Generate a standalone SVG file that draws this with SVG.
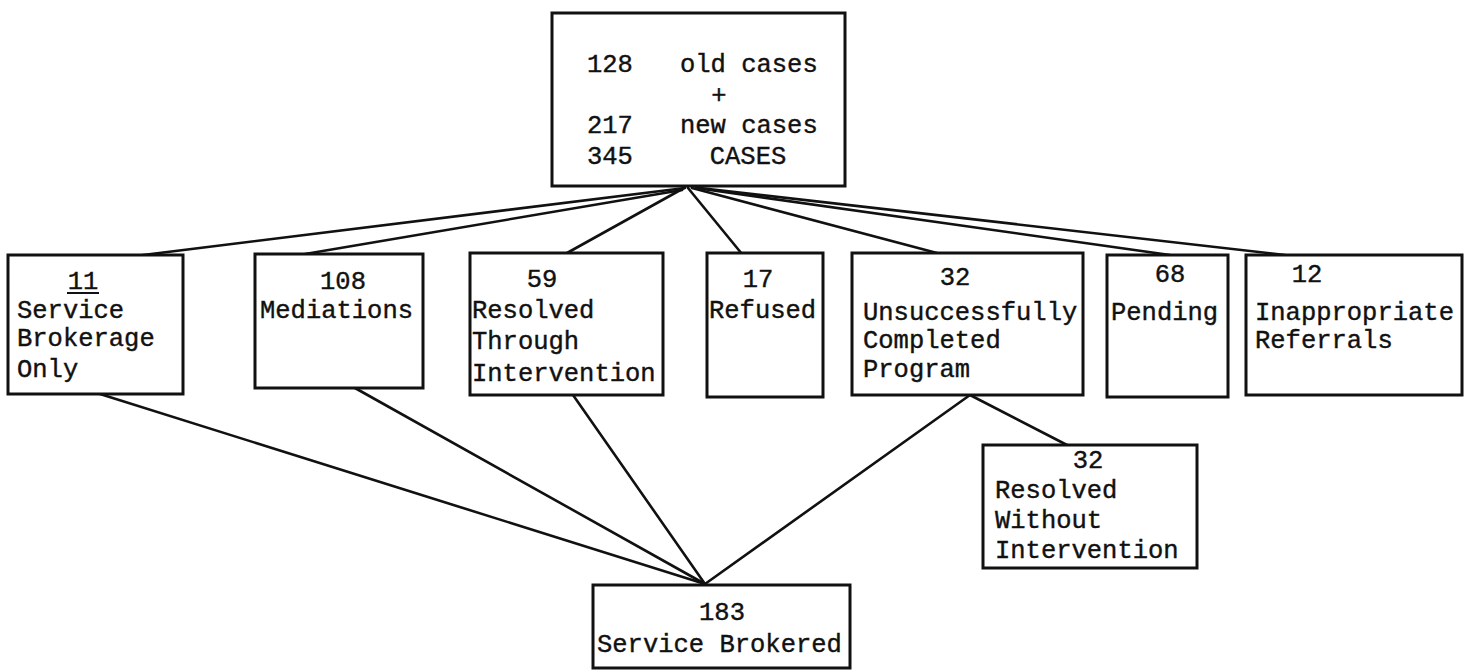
<svg xmlns="http://www.w3.org/2000/svg" width="1468" height="670" viewBox="0 0 1468 670">
<style>
.box{fill:#fff;stroke:#111;stroke-width:3}
.t{font-family:"Liberation Mono","DejaVu Sans Mono",monospace;font-size:25.5px;fill:#111;stroke:#111;stroke-width:0.4}
.c{text-anchor:middle}
.ln{stroke:#111;stroke-width:2.6;fill:none;stroke-linecap:round}
</style>
<rect width="1468" height="670" fill="#fff"/>
<g id="connectors">
<line class="ln" x1="685" y1="188" x2="135" y2="256"/>
<line class="ln" x1="682" y1="190" x2="305" y2="254"/>
<line class="ln" x1="684" y1="188" x2="567" y2="253"/>
<line class="ln" x1="688" y1="188" x2="742" y2="254"/>
<line class="ln" x1="692" y1="188" x2="937" y2="253"/>
<line class="ln" x1="696" y1="188" x2="1170" y2="255"/>
<line class="ln" x1="700" y1="188" x2="1285" y2="255"/>
<line class="ln" x1="100" y1="394" x2="705" y2="584"/>
<line class="ln" x1="355" y1="388" x2="705" y2="584"/>
<line class="ln" x1="573" y1="395" x2="705" y2="584"/>
<line class="ln" x1="970" y1="395" x2="705" y2="584"/>
<line class="ln" x1="970" y1="395" x2="1067" y2="445"/>
</g>
<g id="total">
<rect class="box" x="552" y="13" width="293" height="173"/>
<text class="t" x="587" y="72">128</text>
<text class="t" x="680" y="72">old cases</text>
<text class="t c" x="719" y="103">+</text>
<text class="t" x="587" y="133">217</text>
<text class="t" x="680" y="133">new cases</text>
<text class="t" x="587" y="164">345</text>
<text class="t c" x="748" y="164">CASES</text>
</g>
<g id="brokerage-only">
<rect class="box" x="8" y="255" width="175" height="139"/>
<text class="t c" x="83" y="289">11</text>
<line x1="67" y1="293" x2="99" y2="293" stroke="#111" stroke-width="2"/>
<text class="t" x="17" y="318">Service</text>
<text class="t" x="17" y="346">Brokerage</text>
<text class="t" x="17" y="377">Only</text>
</g>
<g id="mediations">
<rect class="box" x="255" y="254" width="168" height="134"/>
<text class="t c" x="343" y="289">108</text>
<text class="t" x="260" y="318">Mediations</text>
</g>
<g id="resolved-through">
<rect class="box" x="470" y="253" width="193" height="142"/>
<text class="t c" x="542" y="287">59</text>
<text class="t" x="472" y="318">Resolved</text>
<text class="t" x="472" y="349">Through</text>
<text class="t" x="472" y="381">Intervention</text>
</g>
<g id="refused">
<rect class="box" x="707" y="253" width="116" height="144"/>
<text class="t c" x="758" y="287">17</text>
<text class="t" x="709" y="318">Refused</text>
</g>
<g id="unsuccessful">
<rect class="box" x="852" y="253" width="231" height="142"/>
<text class="t c" x="955" y="285">32</text>
<text class="t" x="863" y="320">Unsuccessfully</text>
<text class="t" x="863" y="348">Completed</text>
<text class="t" x="863" y="377">Program</text>
</g>
<g id="pending">
<rect class="box" x="1107" y="255" width="121" height="142"/>
<text class="t c" x="1170" y="282">68</text>
<text class="t" x="1111" y="320">Pending</text>
</g>
<g id="inappropriate">
<rect class="box" x="1246" y="255" width="216" height="140"/>
<text class="t c" x="1307" y="282">12</text>
<text class="t" x="1255" y="320">Inappropriate</text>
<text class="t" x="1255" y="348">Referrals</text>
</g>
<g id="resolved-without">
<rect class="box" x="983" y="445" width="214" height="123"/>
<text class="t c" x="1088" y="468">32</text>
<text class="t" x="995" y="498">Resolved</text>
<text class="t" x="995" y="528">Without</text>
<text class="t" x="995" y="558">Intervention</text>
</g>
<g id="service-brokered">
<rect class="box" x="593" y="585" width="257" height="83"/>
<text class="t c" x="722" y="620">183</text>
<text class="t" x="597" y="652">Service Brokered</text>
</g>
</svg>
